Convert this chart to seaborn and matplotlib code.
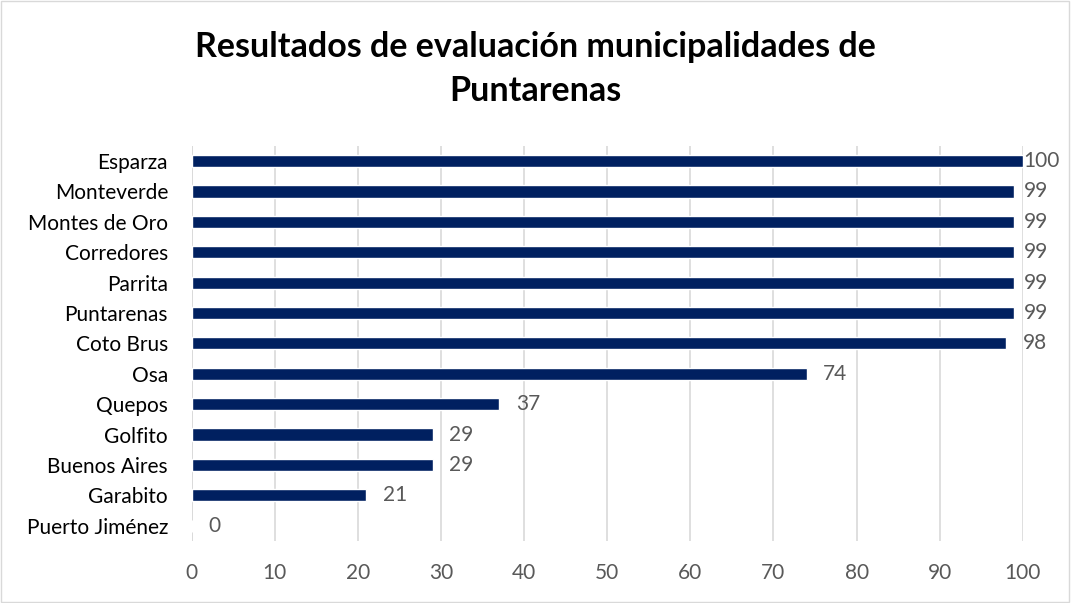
import matplotlib.pyplot as plt
import seaborn as sns
import pandas as pd

municipios = ['Esparza', 'Monteverde', 'Montes de Oro', 'Corredores', 'Parrita',
              'Puntarenas', 'Coto Brus', 'Osa', 'Quepos', 'Golfito',
              'Buenos Aires', 'Garabito', 'Puerto Jiménez']
puntajes = [100, 99, 99, 99, 99, 99, 98, 74, 37, 29, 29, 21, 0]
x_ticks = [0, 10, 20, 30, 40, 50, 60, 70, 80, 90, 100]

sns.set_style('white')
plt.rcParams['font.family'] = ['Lato', 'DejaVu Sans']

df = pd.DataFrame({'municipio': municipios, 'puntaje': puntajes})

fig = plt.figure(figsize=(10.71, 6.03), dpi=100)
ax = fig.add_axes([0.179, 0.103, 0.776, 0.655])

sns.barplot(data=df, y='municipio', x='puntaje', color='#002060',
            width=0.4, saturation=1, ax=ax)

for i, v in enumerate(puntajes):
    ax.text(min(v + 2.0, 100.1), i, str(v), va='center', ha='left',
            fontsize=15, color='#595959')

ax.set_xlim(0, 100)
ax.set_xticks(x_ticks)
ax.tick_params(axis='x', labelsize=15, colors='#595959', length=0, pad=16)
ax.tick_params(axis='y', labelsize=15, colors='black', length=0, pad=17)
ax.set_xlabel('')
ax.set_ylabel('')
ax.grid(axis='x', color='#d9d9d9', linewidth=1.2)
ax.set_axisbelow(True)
for s in ax.spines.values():
    s.set_visible(False)
ax.axvline(0, color='#d9d9d9', linewidth=1.2, zorder=0)

fig.text(0.5, 0.885, 'Resultados de evaluación municipalidades de\nPuntarenas',
         ha='center', va='center', fontsize=24.5, fontweight='bold',
         color='black', linespacing=1.45)

fig.patches.append(plt.Rectangle((0.001, 0.001), 0.997, 0.997, transform=fig.transFigure,
                                 fill=False, edgecolor='#d9d9d9', linewidth=1))

fig.savefig('out.png', dpi=100)
